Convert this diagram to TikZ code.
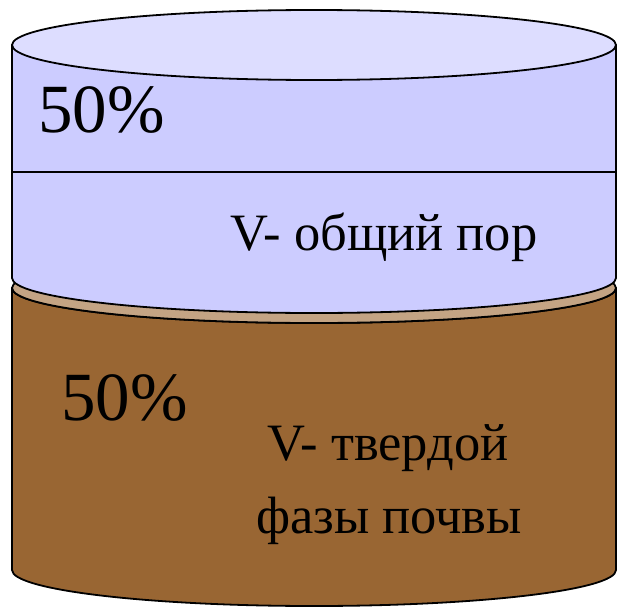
\documentclass[tikz,border=0pt]{standalone}
\usepackage{fontspec}
\setmainfont{Liberation Serif}
\definecolor{lavtop}{HTML}{DDDDFF}
\definecolor{lavbody}{HTML}{CCCCFF}
\definecolor{soil}{HTML}{996633}
\definecolor{soiltop}{HTML}{C4A484}
\tikzset{
  edge/.style={draw=black, line width=1.8pt, line join=round},
  bigtxt/.style={inner sep=0pt, font=\fontsize{69}{72}\selectfont},
  lbl/.style={inner sep=0pt, anchor=base, font=\fontsize{52.5}{60}\selectfont},
}
\begin{document}
\begin{tikzpicture}[x=1pt,y=-1pt]
\useasboundingbox (0,0) rectangle (617,610);
% brown cylinder
\path[edge, fill=soil] (12,288) -- (12,570) arc[start angle=180, end angle=0, x radius=302, y radius=36]
  -- (616,288) arc[start angle=0, end angle=180, x radius=302, y radius=35] -- cycle;
\path[edge, fill=soiltop] (314,288) ellipse[x radius=302, y radius=35];
% lavender cylinder
\path[edge, fill=lavbody] (12,45) -- (12,278) arc[start angle=180, end angle=0, x radius=302, y radius=35]
  -- (616,45) -- cycle;
\path[edge, fill=lavtop] (314,45) ellipse[x radius=302, y radius=35];
\coordinate (l1) at (12,172);
\coordinate (l2) at (616,172);
\draw[line width=1.8pt] (l1) -- (l2);
% texts
\node[bigtxt, anchor=base west] (p1) at (38,132) {50\%};
\node[lbl] (t1) at (384,250) {V- общий пор};
\node[bigtxt, anchor=base west] (p2) at (61,420) {50\%};
\node[lbl] (t2) at (388,460) {V- твердой};
\node[lbl] (t3) at (389,533) {фазы почвы};
\end{tikzpicture}
\end{document}
